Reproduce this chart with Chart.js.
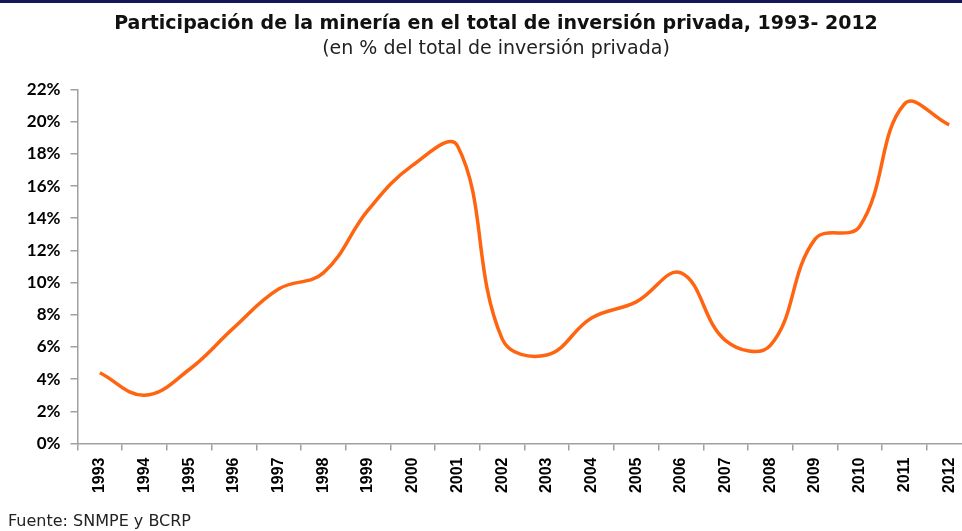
<!DOCTYPE html>
<html>
<head>
<meta charset="utf-8">
<script src="https://cdn.jsdelivr.net/npm/chart.js@4"></script>
<style>
  body { margin: 0; background: #fff; }
  #wrap { position: relative; width: 962px; height: 531px; overflow: hidden; }
  #topbar { position: absolute; left: 0; top: 0; width: 962px; height: 3px; background: #15155a; }
  .head { position: absolute; left: 0; width: 992px; text-align: center; white-space: nowrap; font-family: "DejaVu Sans", sans-serif; font-size: 19px; line-height: 23px; }
  #titulo { top: 11px; font-weight: bold; color: #111; }
  #subtitulo { top: 36px; color: #222; }
  #fuente { position: absolute; left: 8px; top: 511px; font: 16px "DejaVu Sans", sans-serif; color: #222; }
  canvas { position: absolute; left: 0; top: 0; }
</style>
</head>
<body>
<div id="wrap">
  <canvas id="chart" width="990" height="531" style="width:990px;height:531px"></canvas>
  <div id="topbar"></div>
  <div id="titulo" class="head">Participación de la minería en el total de inversión privada, 1993- 2012</div>
  <div id="subtitulo" class="head">(en % del total de inversión privada)</div>
  <div id="fuente">Fuente: SNMPE y BCRP</div>
</div>
<script>
const years = ['1993', '1994', '1995', '1996', '1997', '1998', '1999', '2000', '2001', '2002',
    '2003', '2004', '2005', '2006', '2007', '2008', '2009', '2010', '2011', '2012'];
const participacion = [4.4, 3.0, 4.6, 7.2, 9.6, 10.6, 14.5, 17.3, 18.5, 6.5,
    5.5, 7.8, 8.8, 10.6, 6.4, 6.1, 12.7, 13.5, 21.1, 19.8];
const yTicks = [0, 2, 4, 6, 8, 10, 12, 14, 16, 18, 20, 22];

const axisGray = '#a0a0a0';

const ctx = document.getElementById('chart');
new Chart(ctx, {
    type: 'line',
    data: {
        labels: years,
        datasets: [{
            label: 'Minería',
            data: participacion,
            borderColor: '#ff6510',
            borderWidth: 3.5,
            pointRadius: 0,
            tension: 0.4,
            fill: false,
        }],
    },
    options: {
        responsive: false,
        animation: false,
        layout: { padding: { top: 89.5, right: 18.5, bottom: 0, left: 0 } },
        plugins: {
            legend: { display: false },
            tooltip: { enabled: false },
        },
        scales: {
            x: {
                offset: true,
                grid: {
                    offset: true,
                    drawOnChartArea: false,
                    drawTicks: true,
                    tickLength: 7,
                    color: axisGray,
                    lineWidth: 1.5,
                },
                border: { color: axisGray, width: 1.5 },
                ticks: {
                    autoSkip: false,
                    minRotation: 90,
                    maxRotation: 90,
                    padding: 7,
                    color: '#000',
                    font: { family: 'Liberation Sans', size: 16, weight: 'bold' },
                },
                afterFit: scale => { scale.height = 87.5; },
            },
            y: {
                min: 0,
                max: 22,
                afterBuildTicks: scale => { scale.ticks = yTicks.map(v => ({ value: v })); },
                grid: {
                    drawOnChartArea: false,
                    tickLength: 7,
                    color: axisGray,
                    lineWidth: 1.5,
                },
                border: { color: axisGray, width: 1.5 },
                ticks: {
                    padding: 10,
                    color: '#000',
                    font: { family: 'Lato', size: 17, weight: 'bold' },
                    callback: v => v + '%',
                },
                afterFit: scale => { scale.width = 77.5; },
            },
        },
    },
});
</script>
</body>
</html>
